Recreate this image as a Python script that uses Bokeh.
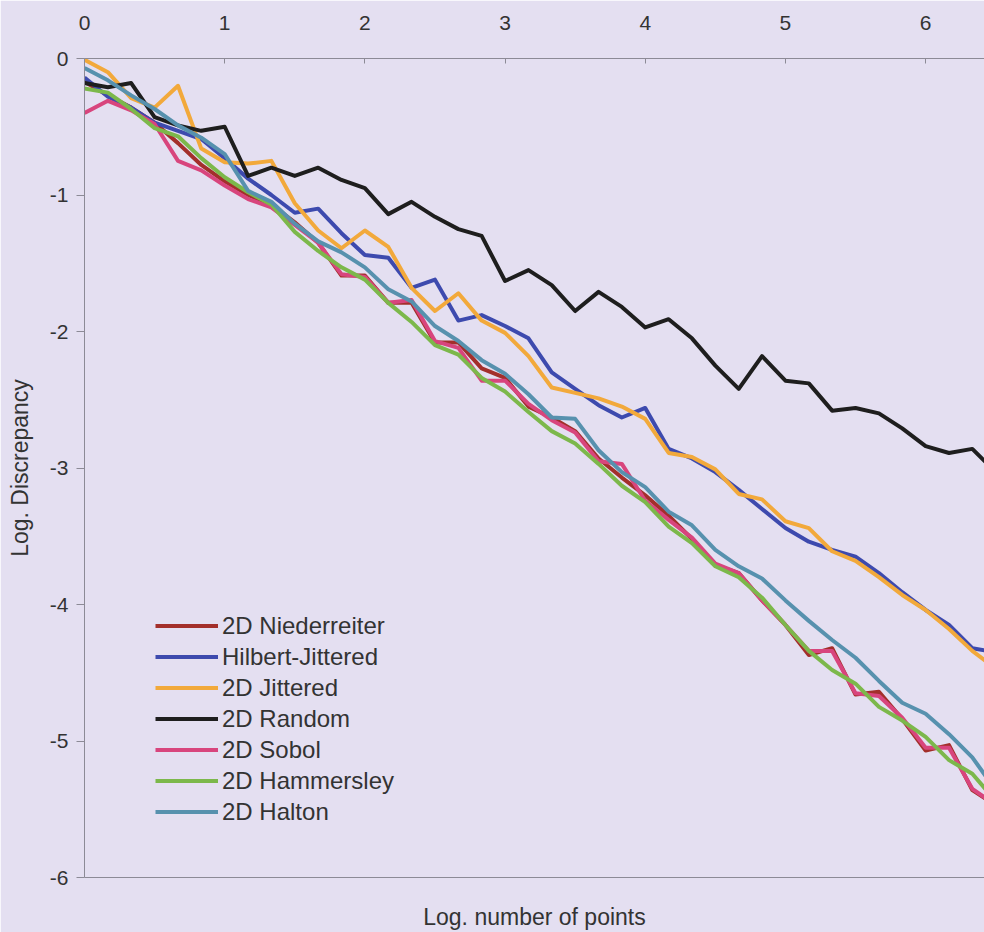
from bokeh.plotting import figure
from bokeh.models import LinearAxis, FixedTicker, Range1d, Legend, LegendItem
from bokeh.embed import file_html
from bokeh.resources import INLINE

# log10 of the number of sample points
log_n = [0.0, 0.167, 0.333, 0.5, 0.667, 0.833, 1.0, 1.167, 1.333, 1.5,
         1.667, 1.833, 2.0, 2.167, 2.333, 2.5, 2.667, 2.833, 3.0, 3.167,
         3.333, 3.5, 3.667, 3.833, 4.0, 4.167, 4.333, 4.5, 4.667, 4.833,
         5.0, 5.167, 5.333, 5.5, 5.667, 5.833, 6.0, 6.167, 6.333, 6.5]

# log10 of the discrepancy for each point set
niederreiter = [-0.17, -0.27, -0.36, -0.47, -0.62, -0.78, -0.90, -1.00, -1.07, -1.20,
                -1.35, -1.59, -1.59, -1.79, -1.79, -2.08, -2.08, -2.27, -2.34, -2.55,
                -2.63, -2.73, -2.93, -3.07, -3.20, -3.35, -3.52, -3.71, -3.77, -3.97,
                -4.15, -4.37, -4.32, -4.66, -4.64, -4.84, -5.07, -5.03, -5.36, -5.47]
hilbert_jittered = [-0.14, -0.28, -0.36, -0.47, -0.53, -0.59, -0.73, -0.88, -1.00, -1.13,
                    -1.10, -1.28, -1.44, -1.46, -1.68, -1.62, -1.92, -1.88, -1.96, -2.05,
                    -2.30, -2.42, -2.54, -2.63, -2.56, -2.86, -2.93, -3.03, -3.16, -3.30,
                    -3.44, -3.54, -3.60, -3.65, -3.77, -3.91, -4.04, -4.15, -4.32, -4.35]
jittered = [-0.01, -0.10, -0.29, -0.36, -0.20, -0.66, -0.76, -0.77, -0.75, -1.06,
            -1.26, -1.39, -1.26, -1.38, -1.68, -1.85, -1.72, -1.92, -2.01, -2.18,
            -2.41, -2.45, -2.49, -2.55, -2.64, -2.89, -2.92, -3.01, -3.19, -3.23,
            -3.39, -3.44, -3.61, -3.68, -3.80, -3.93, -4.04, -4.18, -4.34, -4.47]
random_2d = [-0.18, -0.21, -0.18, -0.43, -0.49, -0.53, -0.50, -0.86, -0.80, -0.86,
             -0.80, -0.89, -0.95, -1.14, -1.05, -1.16, -1.25, -1.30, -1.63, -1.55,
             -1.66, -1.85, -1.71, -1.82, -1.97, -1.91, -2.05, -2.25, -2.42, -2.18,
             -2.36, -2.38, -2.58, -2.56, -2.60, -2.71, -2.84, -2.89, -2.86, -3.03]
sobol = [-0.40, -0.31, -0.38, -0.48, -0.75, -0.82, -0.93, -1.03, -1.09, -1.22,
         -1.35, -1.58, -1.60, -1.79, -1.77, -2.07, -2.12, -2.36, -2.36, -2.53,
         -2.65, -2.74, -2.95, -2.97, -3.24, -3.38, -3.51, -3.70, -3.77, -3.97,
         -4.15, -4.34, -4.34, -4.65, -4.67, -4.83, -5.05, -5.05, -5.35, -5.47]
hammersley = [-0.22, -0.25, -0.37, -0.51, -0.57, -0.73, -0.87, -0.98, -1.07, -1.27,
              -1.41, -1.53, -1.62, -1.79, -1.93, -2.10, -2.17, -2.34, -2.44, -2.59,
              -2.73, -2.82, -2.97, -3.13, -3.25, -3.43, -3.55, -3.72, -3.80, -3.95,
              -4.15, -4.34, -4.48, -4.58, -4.75, -4.85, -4.97, -5.14, -5.24, -5.44]
halton = [-0.07, -0.16, -0.27, -0.37, -0.49, -0.58, -0.70, -0.97, -1.05, -1.21,
          -1.34, -1.42, -1.53, -1.69, -1.78, -1.96, -2.07, -2.21, -2.31, -2.46,
          -2.63, -2.64, -2.87, -3.03, -3.14, -3.32, -3.42, -3.60, -3.72, -3.81,
          -3.97, -4.12, -4.26, -4.39, -4.56, -4.72, -4.80, -4.95, -5.12, -5.36]

series_names = ["2D Niederreiter", "Hilbert-Jittered", "2D Jittered", "2D Random",
                "2D Sobol", "2D Hammersley", "2D Halton"]
series_values = [niederreiter, hilbert_jittered, jittered, random_2d,
                 sobol, hammersley, halton]
series_colors = ["#a32f2b", "#3d4aae", "#f2a93b", "#1e1e1e",
                 "#d8457d", "#7cb84b", "#5791ae"]

x_ticks = [0, 1, 2, 3, 4, 5, 6]
y_ticks = [-6, -5, -4, -3, -2, -1, 0]
y_tick_labels = ["-6", "-5", "-4", "-3", "-2", "-1", "0"]

FONT = "Liberation Sans"
BG = "#e4dff1"
AXIS_GREY = "#8c8a96"
TEXT = "#333333"

p = figure(width=984, height=932, output_backend="svg", toolbar_location=None,
           x_range=Range1d(0, 6.42), y_range=Range1d(-6, 0),
           x_axis_location="above",
           min_border_left=84, min_border_right=0, min_border_top=58, min_border_bottom=55)
p.background_fill_color = BG
p.border_fill_color = BG
p.outline_line_color = None
p.xgrid.visible = False
p.ygrid.visible = False

# top axis carries the point-count ticks
xa = p.xaxis[0]
xa.ticker = FixedTicker(ticks=x_ticks)
xa.axis_line_color = AXIS_GREY
xa.major_tick_line_color = AXIS_GREY
xa.major_tick_in = 5
xa.major_tick_out = 0
xa.minor_tick_line_color = None
xa.major_label_text_font = FONT
xa.major_label_text_font_size = "21px"
xa.major_label_text_color = TEXT
xa.major_label_standoff = 29

ya = p.yaxis[0]
ya.ticker = FixedTicker(ticks=y_ticks)
ya.major_label_overrides = {t: s for t, s in zip(y_ticks, y_tick_labels)}
ya.axis_line_color = AXIS_GREY
ya.major_tick_line_color = AXIS_GREY
ya.major_tick_in = 0
ya.major_tick_out = 8
ya.minor_tick_line_color = None
ya.major_label_text_font = FONT
ya.major_label_text_font_size = "21px"
ya.major_label_text_color = TEXT
ya.major_label_standoff = 8
ya.axis_label = "Log. Discrepancy"
ya.axis_label_text_font = FONT
ya.axis_label_text_font_size = "23px"
ya.axis_label_text_font_style = "normal"
ya.axis_label_text_color = TEXT
ya.axis_label_standoff = 14

# bottom edge: a bare line plus the axis title
bottom = LinearAxis(ticker=FixedTicker(ticks=[]), axis_line_color=AXIS_GREY,
                    major_tick_line_color=None, minor_tick_line_color=None,
                    axis_label="Log. number of points", axis_label_text_font=FONT,
                    axis_label_text_font_size="23px", axis_label_text_font_style="normal",
                    axis_label_text_color=TEXT, axis_label_standoff=26)
p.add_layout(bottom, "below")

items = []
for name, vals, col in zip(series_names, series_values, series_colors):
    r = p.line(log_n, vals, line_color=col, line_width=4, line_join="round")
    items.append(LegendItem(label=name, renderers=[r]))

legend = Legend(items=items, location=(71, 50), orientation="vertical",
                background_fill_alpha=0, border_line_color=None,
                padding=0, margin=0, spacing=0,
                glyph_width=63, glyph_height=31, label_height=31,
                label_standoff=4,
                label_text_font=FONT, label_text_font_size="24px",
                label_text_color=TEXT)
p.add_layout(legend)

open("out.html", "w").write(file_html(p, INLINE))
